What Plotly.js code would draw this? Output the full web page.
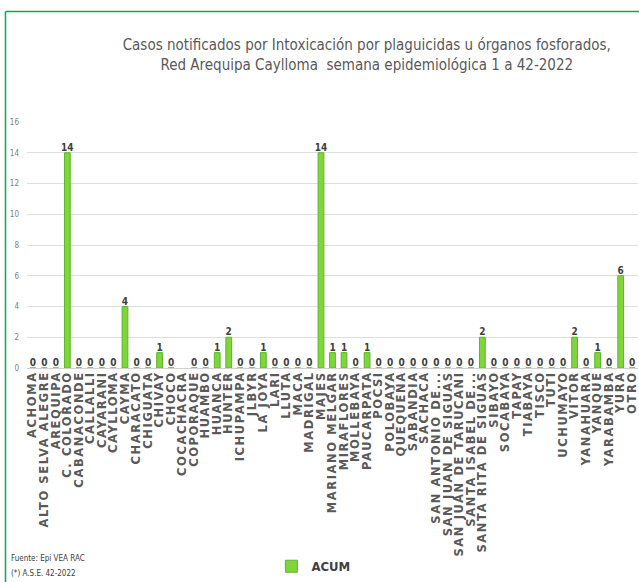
<!DOCTYPE html>
<html>
<head>
<meta charset="utf-8">
<script src="https://cdn.plot.ly/plotly-3.0.1.min.js"></script>
<style>
html,body{margin:0;padding:0;background:#fff;}
#chart{width:639px;height:582px;}
#chart .xtick text{letter-spacing:1.6px;}
</style>
</head>
<body>
<div id="chart"></div>
<script>
const categories = ["ACHOMA","ALTO SELVA ALEGRE","AREQUIPA","C. COLORADO","CABANACONDE","CALLALLI","CAYARANI","CAYLLOMA","CAYMA","CHARACATO","CHIGUATA","CHIVAY","CHOCO","COCACHACRA","COPORAQUE","HUAMBO","HUANCA","HUNTER","ICHUPAMPA","JLBYR","LA JOYA","LARI","LLUTA","MACA","MADRIGAL","MAJES","MARIANO MELGAR","MIRAFLORES","MOLLEBAYA","PAUCARPATA","POCSI","POLOBAYA","QUEQUEÑA","SABANDIA","SACHACA","SAN ANTONIO DE...","SAN JUAN DE SIGUAS","SAN JUAN DE TARUCANI","SANTA ISABEL DE...","SANTA RITA DE SIGUAS","SIBAYO","SOCABAYA","TAPAY","TIABAYA","TISCO","TUTI","UCHUMAYO","VITOR","YANAHUARA","YANQUE","YARABAMBA","YURA","OTRO"];
const acum = [0,0,0,14,0,0,0,0,4,0,0,1,0,null,0,0,1,2,0,0,1,0,0,0,0,14,1,1,0,1,0,0,0,0,0,0,0,0,0,2,0,0,0,0,0,0,0,2,0,1,0,6,0];
const yTicks = [0,2,4,6,8,10,12,14,16];
const seriesName = "ACUM";
const titleLines = ["Casos notificados por Intoxicación por plaguicidas u órganos fosforados,","Red Arequipa Caylloma  semana epidemiológica 1 a 42-2022"];
const footnotes = ["Fuente: Epi VEA RAC","(*) A.S.E. 42-2022"];

const narrow = '"DejaVu Sans Condensed", "Liberation Sans", sans-serif';

const trace = {
  type: 'bar',
  x: categories,
  y: acum,
  name: seriesName,
  marker: {color: '#7ed63b', line: {color: '#5cb52a', width: 1}},
  text: acum.map(v => v === null ? '' : String(v)),
  textposition: 'outside',
  constraintext: 'none',
  cliponaxis: false,
  textfont: {family: narrow, size: 10, color: '#404040', weight: 'bold'},
  showlegend: true
};

const layout = {
  width: 639, height: 582,
  margin: {l: 27, r: 1, t: 122, b: 212},
  paper_bgcolor: '#ffffff', plot_bgcolor: '#ffffff',
  bargap: 0.5,
  title: {
    text: titleLines.join('<br>'),
    x: 0.574, xref: 'container', xanchor: 'center',
    y: 0.914, yref: 'container', yanchor: 'top',
    font: {family: narrow, size: 15, color: '#595959'}
  },
  xaxis: {
    type: 'category',
    range: [-0.5, categories.length - 0.5],
    tickmode: 'array',
    tickvals: categories,
    ticktext: categories,
    tickangle: -90,
    tickfont: {family: '"DejaVu Sans", sans-serif', size: 11.5, color: '#595959', weight: 'bold'},
    showgrid: false, zeroline: false, showline: false,
    ticks: '', automargin: false
  },
  yaxis: {
    range: [0, 16],
    tickvals: yTicks,
    tickfont: {family: narrow, size: 8, color: '#808080'},
    ticklabelstandoff: 7,
    showgrid: true, gridcolor: '#dedede', gridwidth: 1,
    zeroline: true, zerolinecolor: '#d0d0d0', zerolinewidth: 1,
    showline: false, ticks: '', automargin: false
  },
  legend: {
    orientation: 'h', x: 0.40, xanchor: 'left', y: -0.806, yanchor: 'middle',
    font: {family: narrow, size: 13, color: '#404040', weight: 'bold'},
    itemwidth: 30, bgcolor: 'rgba(0,0,0,0)'
  },
  annotations: [
    {text: footnotes[0], xref: 'paper', yref: 'paper', x: -0.029, y: -0.774, xanchor: 'left', yanchor: 'middle', showarrow: false, font: {family: narrow, size: 8, color: '#404040'}},
    {text: footnotes[1], xref: 'paper', yref: 'paper', x: -0.029, y: -0.835, xanchor: 'left', yanchor: 'middle', showarrow: false, font: {family: narrow, size: 8, color: '#404040'}}
  ],
  shapes: [
    {type: 'line', xref: 'paper', yref: 'paper', x0: -0.0352, x1: -0.0352, y0: 1.4496, y1: -1.0, line: {color: '#00b050', width: 1.5}},
    {type: 'line', xref: 'paper', yref: 'paper', x0: -0.0352, x1: 1.01, y0: 1.4496, y1: 1.4496, line: {color: '#00b050', width: 1.5}}
  ]
};

Plotly.newPlot('chart', [trace], layout, {displayModeBar: false, staticPlot: true});
</script>
</body>
</html>
